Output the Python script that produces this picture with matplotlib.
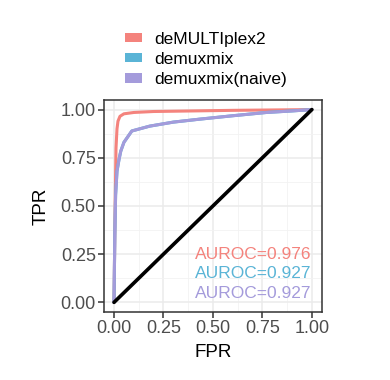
import numpy as np
import matplotlib.pyplot as plt
from matplotlib.patches import Patch

plt.rcParams['font.family'] = ['Liberation Sans', 'DejaVu Sans']

# ROC curves
fpr_demultiplex2 = [0, 0.005, 0.01, 0.015, 0.02, 0.03, 0.05, 0.1, 0.2, 0.4, 0.6, 0.8, 1.0]
tpr_demultiplex2 = [0, 0.45, 0.80, 0.90, 0.94, 0.965, 0.978, 0.985, 0.99, 0.993, 0.996, 0.998, 1.0]

fpr_demuxmix = [0, 0.004, 0.008, 0.015, 0.025, 0.034, 0.05, 0.09, 0.18, 0.3, 0.43, 0.6, 0.77, 0.9, 1.0]
tpr_demuxmix = [0, 0.35, 0.557, 0.68, 0.74, 0.784, 0.83, 0.889, 0.914, 0.935, 0.95, 0.968, 0.985, 0.993, 1.0]

fpr_naive = fpr_demuxmix
tpr_naive = tpr_demuxmix

methods = ['deMULTIplex2', 'demuxmix', 'demuxmix(naive)']
colors = ['#F4837D', '#5AB4D6', '#A49BDB']
auroc = [0.976, 0.927, 0.927]

fig = plt.figure(figsize=(3.9, 3.8), dpi=100)
ax = fig.add_axes([0.267, 0.179, 0.558, 0.558])

# grid like ggplot theme_bw
ticks = [0, 0.25, 0.5, 0.75, 1.0]
minor = [0.125, 0.375, 0.625, 0.875]
ax.set_xticks(ticks)
ax.set_yticks(ticks)
ax.set_xticks(minor, minor=True)
ax.set_yticks(minor, minor=True)
ax.grid(True, which='major', color='#EBEBEB', lw=1.1)
ax.grid(True, which='minor', color='#F2F2F2', lw=0.6)
ax.tick_params(which='minor', length=0)
ax.set_axisbelow(True)

ax.plot(fpr_demultiplex2, tpr_demultiplex2, color=colors[0], lw=2.2, solid_capstyle='round')
ax.plot(fpr_demuxmix, tpr_demuxmix, color=colors[1], lw=2.2, solid_capstyle='round')
ax.plot(fpr_naive, tpr_naive, color=colors[2], lw=2.2, solid_capstyle='round')
ax.plot([0, 1], [0, 1], color='black', lw=2.6, solid_capstyle='round')

ax.set_xlim(-0.05, 1.05)
ax.set_ylim(-0.05, 1.05)

for i, (a, c) in enumerate(zip(auroc, colors)):
    ax.text(1.0, 0.248 - i * 0.1, f'AUROC={a}', color=c, fontsize=12.5,
            ha='right', va='center')

for s in ax.spines.values():
    s.set_color('#333333')
    s.set_linewidth(1.1)
ax.tick_params(which='major', length=4, width=1.1, color='#333333',
               labelsize=13, labelcolor='#4D4D4D', pad=2)
ax.set_xticklabels(['0.00', '0.25', '0.50', '0.75', '1.00'])
ax.set_yticklabels(['0.00', '0.25', '0.50', '0.75', '1.00'])
ax.set_xlabel('FPR', fontsize=13.5, labelpad=5)
ax.set_ylabel('TPR', fontsize=13.5, labelpad=8)

handles = [Patch(facecolor=c, edgecolor='none') for c in colors]
fig.legend(handles, methods, loc='upper left', bbox_to_anchor=(0.303, 0.935),
           frameon=False, fontsize=12.5, handlelength=1.0, handleheight=0.45,
           handletextpad=0.65, labelspacing=0.3, borderaxespad=0)

fig.savefig('out.png', dpi=100)
